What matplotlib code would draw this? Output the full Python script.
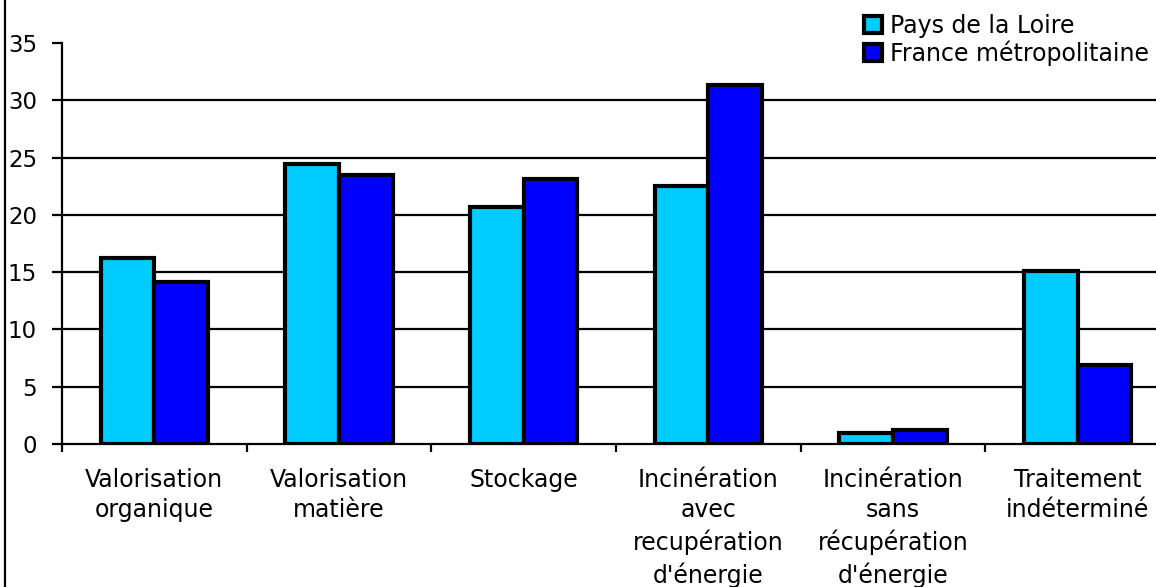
import matplotlib
matplotlib.use("Agg")
import matplotlib.pyplot as plt
from matplotlib.patches import Patch
import numpy as np

categories = ["Valorisation\norganique", "Valorisation\nmatière", "Stockage",
              "Incinération\navec\nrecupération\nd'énergie",
              "Incinération\nsans\nrécupération\nd'énergie",
              "Traitement\nindéterminé"]
pays_loire = [16.2, 24.4, 20.7, 22.5, 1.0, 15.1]
france_metro = [14.1, 23.5, 23.1, 31.3, 1.2, 6.9]
series_names = ["Pays de la Loire", "France métropolitaine"]
yticks = [0, 5, 10, 15, 20, 25, 30, 35]

plt.rcParams['font.family'] = ['DejaVu Sans']

W, H = 1156, 587
fig = plt.figure(figsize=(W/100, H/100), dpi=100)
ax = fig.add_axes([62/W, 143/H, (1170-62)/W, 401/H])

x = np.arange(len(categories))
bw = 0.29
for yv in yticks[1:-1]:
    ax.axhline(yv, color='black', lw=1.6, zorder=1)
ax.bar(x - bw/2, pays_loire, bw, color='#00CCFF', edgecolor='black', lw=3, zorder=3)
ax.bar(x + bw/2, france_metro, bw, color='#0000FF', edgecolor='black', lw=3, zorder=3)

ax.set_xlim(-0.5, len(categories) - 0.5)
ax.set_ylim(0, 35)
ax.set_yticks(yticks)
ax.tick_params(axis='y', direction='out', length=7, width=1.6, pad=11, labelsize=16.5)
ax.set_xticks(np.arange(-0.5, len(categories)), labels=[])
ax.tick_params(axis='x', which='major', direction='out', length=6, width=1.6)
ax.set_xticks(x, labels=categories, minor=True)
ax.tick_params(axis='x', which='minor', length=0, pad=17, labelsize=17)
for lbl in ax.get_xticklabels(minor=True):
    lbl.set_linespacing(1.36)
    lbl.set_verticalalignment('top')

for s in ['top', 'right']:
    ax.spines[s].set_visible(False)
for s in ['left', 'bottom']:
    ax.spines[s].set_linewidth(1.6)

# left chart-area border
fig.add_artist(plt.Line2D([5/W, 5/W], [0, 1], color='black', lw=1.6))

handles = [Patch(facecolor='#00CCFF', edgecolor='black', lw=3),
           Patch(facecolor='#0000FF', edgecolor='black', lw=3)]
fig.legend(handles, series_names, loc='upper left', bbox_to_anchor=(864/W, 1 - 14/H),
           frameon=False, fontsize=17, handlelength=0.75, handleheight=0.75,
           handletextpad=0.35, labelspacing=0.1, borderpad=0, borderaxespad=0)

fig.savefig("out.png", dpi=100)
